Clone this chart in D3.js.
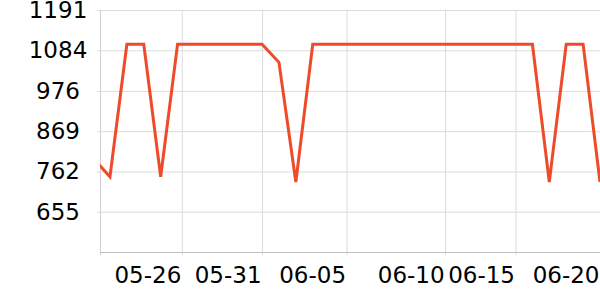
<!DOCTYPE html>
<html>
<head>
<meta charset="utf-8">
<script src="https://cdn.jsdelivr.net/npm/d3@7"></script>
<style>
  html, body { margin: 0; padding: 0; background: #fff; }
  svg { display: block; }
</style>
</head>
<body>
<svg id="chart" width="600" height="300"></svg>
<script>
// ---- data ----
const dates = [
  "2024-05-21","2024-05-22","2024-05-23","2024-05-24","2024-05-25","2024-05-26",
  "2024-05-27","2024-05-28","2024-05-29","2024-05-30","2024-05-31","2024-06-01",
  "2024-06-02","2024-06-03","2024-06-04","2024-06-05","2024-06-06","2024-06-07",
  "2024-06-08","2024-06-09","2024-06-10","2024-06-11","2024-06-12","2024-06-13",
  "2024-06-14","2024-06-15","2024-06-16","2024-06-17","2024-06-18","2024-06-19",
  "2024-06-20"
];
const values = [
  797, 748, 1100, 1100, 748, 1100,
  1100, 1100, 1100, 1100, 1100, 1052,
  734, 1100, 1100, 1100, 1100, 1100,
  1100, 1100, 1100, 1100, 1100, 1100,
  1100, 1100, 1100, 734, 1100, 1100,
  734
];
const xDomain = ["2024-05-21T09:50:00Z", "2024-06-20T00:00:00Z"];
const xTickValues = [
  "2024-05-26T06:00:00Z", "2024-05-31T00:00:00Z", "2024-06-05T00:00:00Z",
  "2024-06-10T20:00:00Z", "2024-06-15T00:00:00Z", "2024-06-20T00:00:00Z"
];
const yDomain = [548, 1191];
const yTickValues = [655, 762, 869, 976, 1084, 1191];

// ---- drawing ----
const svg = d3.select("#chart");
const mLeft = 100, mRight = 600, mTop = 10, mBottom = 252;
const parse = s => new Date(s.length === 10 ? s + "T00:00:00Z" : s);

const x = d3.scaleUtc().domain(xDomain.map(parse)).range([mLeft, mRight]);
const y = d3.scaleLinear().domain(yDomain).range([mBottom, mTop]);
const fmt = d3.utcFormat("%m-%d");
const font = "'DejaVu Sans', sans-serif";

// horizontal grid + y labels
const yAxis = d3.axisLeft(y).tickValues(yTickValues)
  .tickSize(0).tickFormat(d => d);
const gy = svg.append("g").attr("transform", `translate(${mLeft - 3},0)`).call(yAxis);
gy.select(".domain").remove();
gy.selectAll(".tick line").attr("stroke", "#dcdcdc").attr("x1", 0).attr("x2", mRight - mLeft + 3);
gy.selectAll(".tick text")
  .attr("x", -(mLeft - 3) + 58)
  .attr("text-anchor", "middle")
  .attr("font-family", font).attr("font-size", 23).attr("fill", "#000");

// vertical grid + x labels
const xAxis = d3.axisBottom(x).tickValues(xTickValues.map(parse))
  .tickSize(0).tickFormat(fmt);
const gx = svg.append("g").attr("transform", `translate(0,${mBottom})`).call(xAxis);
gx.select(".domain").remove();
gx.selectAll(".tick line").attr("stroke", "#dcdcdc").attr("y1", mTop - mBottom).attr("y2", 3);
gx.selectAll(".tick text")
  .attr("text-anchor", "end").attr("x", -1).attr("y", 0).attr("dy", 0)
  .attr("transform", "translate(0,30.5)")
  .attr("font-family", font).attr("font-size", 23).attr("fill", "#000");

// left axis line
svg.append("line").attr("x1", mLeft + 0.5).attr("x2", mLeft + 0.5)
  .attr("y1", mTop).attr("y2", mBottom + 3).attr("stroke", "#d0d0d0");
// bottom axis line
svg.append("line").attr("x1", mLeft).attr("x2", mRight)
  .attr("y1", mBottom + 0.5).attr("y2", mBottom + 0.5).attr("stroke", "#c0c0c0");

// clip
svg.append("clipPath").attr("id", "clip").append("rect")
  .attr("x", mLeft).attr("y", 0).attr("width", mRight - mLeft).attr("height", 300);

const data = dates.map((d, i) => ({ date: parse(d), value: values[i] }));
const line = d3.line().x(d => x(d.date)).y(d => y(d.value));
svg.append("path").datum(data)
  .attr("clip-path", "url(#clip)")
  .attr("fill", "none")
  .attr("stroke", "#ee4b2b")
  .attr("stroke-width", 3)
  .attr("stroke-linejoin", "miter")
  .attr("d", line);
</script>
</body>
</html>
